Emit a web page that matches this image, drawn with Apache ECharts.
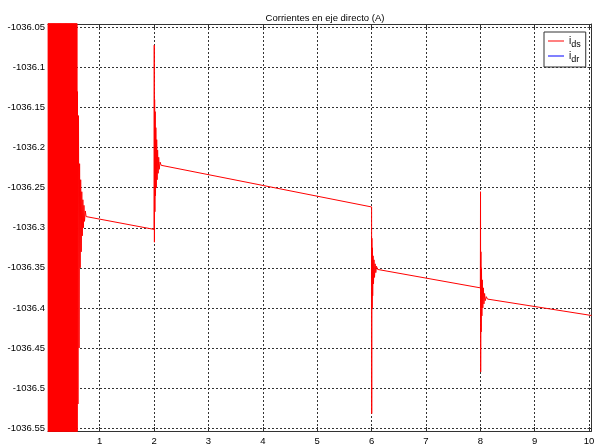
<!DOCTYPE html>
<html><head><meta charset="utf-8">
<script src="https://cdn.jsdelivr.net/npm/echarts@6/dist/echarts.min.js"></script>
<style>html,body{margin:0;padding:0;background:#fff}#c{width:597px;height:445px}</style>
</head><body><div id="c"></div>
<script>
const chartTitle = 'Corrientes en eje directo (A)';
const seriesNames = ['i_ds', 'i_dr'];
const xTicks = [1, 2, 3, 4, 5, 6, 7, 8, 9, 10];
const yTicks = [-1036.55, -1036.5, -1036.45, -1036.4, -1036.35, -1036.3, -1036.25, -1036.2, -1036.15, -1036.1, -1036.05];

// i_ds : start-up oscillation (clipped by the axes)
const startupIds = [
[0.050,-1035.9],[0.055,-1036.7],[0.060,-1035.9],[0.065,-1036.7],[0.070,-1035.9],[0.075,-1036.7],[0.080,-1035.9],[0.085,-1036.7],[0.090,-1035.9],[0.095,-1036.7],
[0.100,-1035.9],[0.105,-1036.7],[0.110,-1035.9],[0.115,-1036.7],[0.120,-1035.9],[0.125,-1036.7],[0.130,-1035.9],[0.135,-1036.7],[0.140,-1035.9],[0.145,-1036.7],
[0.150,-1035.9],[0.155,-1036.7],[0.160,-1035.9],[0.165,-1036.7],[0.170,-1035.9],[0.175,-1036.7],[0.180,-1035.9],[0.185,-1036.7],[0.190,-1035.9],[0.195,-1036.7],
[0.200,-1035.9],[0.205,-1036.7],[0.210,-1035.9],[0.215,-1036.7],[0.220,-1035.9],[0.225,-1036.7],[0.230,-1035.9],[0.235,-1036.7],[0.240,-1035.9],[0.245,-1036.7],
[0.250,-1035.9],[0.255,-1036.7],[0.260,-1035.9],[0.265,-1036.7],[0.270,-1035.9],[0.275,-1036.7],[0.280,-1035.9],[0.285,-1036.7],[0.290,-1035.9],[0.295,-1036.7],
[0.300,-1035.9],[0.305,-1036.7],[0.310,-1035.9],[0.315,-1036.7],[0.320,-1035.9],[0.325,-1036.7],[0.330,-1035.9],[0.335,-1036.7],[0.340,-1035.9],[0.345,-1036.7],
[0.350,-1035.9],[0.355,-1036.7],[0.360,-1035.9],[0.365,-1036.7],[0.370,-1035.9],[0.375,-1036.7],[0.380,-1035.9],[0.385,-1036.7],[0.390,-1035.9],[0.395,-1036.7],
[0.400,-1035.9],[0.405,-1036.7],[0.410,-1035.9],[0.415,-1036.7],[0.420,-1035.9],[0.425,-1036.7],[0.430,-1035.9],[0.435,-1036.7],[0.440,-1035.9],[0.445,-1036.7],
[0.450,-1035.9],[0.455,-1036.7],[0.460,-1035.9],[0.465,-1036.7],[0.470,-1035.9],[0.475,-1036.7],[0.480,-1035.9],[0.485,-1036.7],[0.490,-1035.9],[0.495,-1036.7],
[0.500,-1035.9],[0.505,-1036.7],[0.510,-1035.9],[0.515,-1036.7],[0.520,-1035.9],[0.525,-1036.7],[0.530,-1035.95],[0.535,-1036.66],[0.540,-1035.97],[0.545,-1036.64],
[0.550,-1036.0],[0.555,-1036.62],[0.560,-1036.01],[0.565,-1036.61],[0.570,-1036.02],[0.575,-1036.6],[0.580,-1036.04],[0.585,-1036.58]];
const tailIds = [[0.59,-1036.13],[0.60,-1036.52],[0.61,-1036.16],[0.62,-1036.45],[0.63,-1036.22],[0.64,-1036.35],[0.65,-1036.24],[0.66,-1036.33],[0.67,-1036.255],[0.68,-1036.31],[0.69,-1036.265],[0.70,-1036.30],[0.71,-1036.272],[0.72,-1036.292],[0.735,-1036.279],[0.75,-1036.286],[0.78,-1036.284]];
const step2Ids = [[2.0,-1036.302],[2.003,-1036.072],[2.006,-1036.318],[2.010,-1036.14],[2.015,-1036.28],[2.020,-1036.155],[2.026,-1036.26],[2.032,-1036.175],[2.040,-1036.25],[2.048,-1036.19],[2.056,-1036.24],[2.065,-1036.203],[2.075,-1036.232],[2.085,-1036.212],[2.095,-1036.227],[2.11,-1036.218],[2.13,-1036.222]];
const step6Ids = [[6.0,-1036.274],[6.002,-1036.532],[6.005,-1036.313],[6.009,-1036.40],[6.014,-1036.325],[6.020,-1036.385],[6.027,-1036.335],[6.035,-1036.37],[6.044,-1036.34],[6.054,-1036.362],[6.065,-1036.345],[6.077,-1036.356],[6.09,-1036.348],[6.11,-1036.352],[6.13,-1036.35]];
const step8Ids = [[8.0,-1036.375],[8.003,-1036.255],[8.006,-1036.48],[8.010,-1036.33],[8.015,-1036.43],[8.021,-1036.35],[8.028,-1036.41],[8.036,-1036.365],[8.045,-1036.40],[8.055,-1036.375],[8.066,-1036.395],[8.078,-1036.382],[8.09,-1036.391],[8.11,-1036.386],[8.13,-1036.389]];
const endIds = [[10.044,-1036.4095]];
// i_dr : off-scale, nothing visible in the plotted range
const idrData = [];

const idsData = [].concat(startupIds, tailIds, step2Ids, step6Ids, step8Ids, endIds);

const FONT = '"Liberation Sans", Arial, sans-serif';
const fmtY = v => String(parseFloat(Number(v).toFixed(2)));
const X_MIN = 0.049, X_MAX = 10.044, Y_MIN = -1036.5537, Y_MAX = -1036.0456;
const frameColor = '#333';
const gridLine = { show: true, lineStyle: { color: '#333', type: [2, 2], width: 1 } };

const chart = echarts.init(document.getElementById('c'), null, { renderer: 'canvas' });
chart.setOption({
  animation: false,
  backgroundColor: '#fff',
  title: {
    text: chartTitle, left: 320, top: 8, textAlign: 'center',
    textStyle: { fontFamily: FONT, fontSize: 9.5, fontWeight: 'normal', color: '#000' }
  },
  grid: { left: 48, top: 24, width: 543.5, height: 407, outerBoundsMode: 'none', containLabel: false },
  legend: {
    orient: 'vertical', left: 544, top: 32, padding: [4, 5, 3, 4], itemGap: 2,
    icon: 'rect', itemWidth: 16, itemHeight: 1, selectedMode: false,
    borderColor: '#333', borderWidth: 1, backgroundColor: '#fff',
    data: seriesNames,
    formatter: n => '{m|i}{s|' + n.split('_')[1] + '}',
    textStyle: {
      fontFamily: FONT, color: '#000',
      rich: { m: { fontSize: 10, fontFamily: FONT, color: '#000' }, s: { fontSize: 9, fontFamily: FONT, color: '#000', padding: [7, 0, 0, 0] } }
    }
  },
  xAxis: [{
    type: 'value', min: X_MIN, max: X_MAX, position: 'bottom',
    axisLine: { show: true, onZero: false, lineStyle: { color: frameColor } },
    axisTick: { show: true, inside: true, length: 4, customValues: xTicks, lineStyle: { color: frameColor } },
    axisLabel: { customValues: xTicks, margin: 5, fontFamily: FONT, fontSize: 9.5, color: '#000' },
    splitLine: gridLine
  }, {
    type: 'value', min: X_MIN, max: X_MAX, position: 'top',
    axisLine: { show: true, onZero: false, lineStyle: { color: frameColor } },
    axisTick: { show: true, inside: true, length: 4, customValues: xTicks, lineStyle: { color: frameColor } },
    axisLabel: { show: false }, splitLine: { show: false }
  }],
  yAxis: [{
    type: 'value', min: Y_MIN, max: Y_MAX, position: 'left',
    axisLine: { show: true, onZero: false, lineStyle: { color: frameColor } },
    axisTick: { show: true, inside: true, length: 4, customValues: yTicks, lineStyle: { color: frameColor } },
    axisLabel: { customValues: yTicks, margin: 3, formatter: fmtY, fontFamily: FONT, fontSize: 9.5, color: '#000' },
    splitLine: gridLine
  }, {
    type: 'value', min: Y_MIN, max: Y_MAX, position: 'right',
    axisLine: { show: true, onZero: false, lineStyle: { color: frameColor } },
    axisTick: { show: true, inside: true, length: 4, customValues: yTicks, lineStyle: { color: frameColor } },
    axisLabel: { show: false }, splitLine: { show: false }
  }],
  series: [{
    name: seriesNames[0], type: 'line', data: idsData, xAxisIndex: 0, yAxisIndex: 0,
    showSymbol: false, symbol: 'none', clip: true,
    color: '#ff0000', lineStyle: { color: '#ff0000', width: 1 }
  }, {
    name: seriesNames[1], type: 'line', data: idrData, xAxisIndex: 0, yAxisIndex: 0,
    showSymbol: false, symbol: 'none', clip: true,
    color: '#0000ff', lineStyle: { color: '#0000ff', width: 1 }
  }]
});
</script></body></html>
